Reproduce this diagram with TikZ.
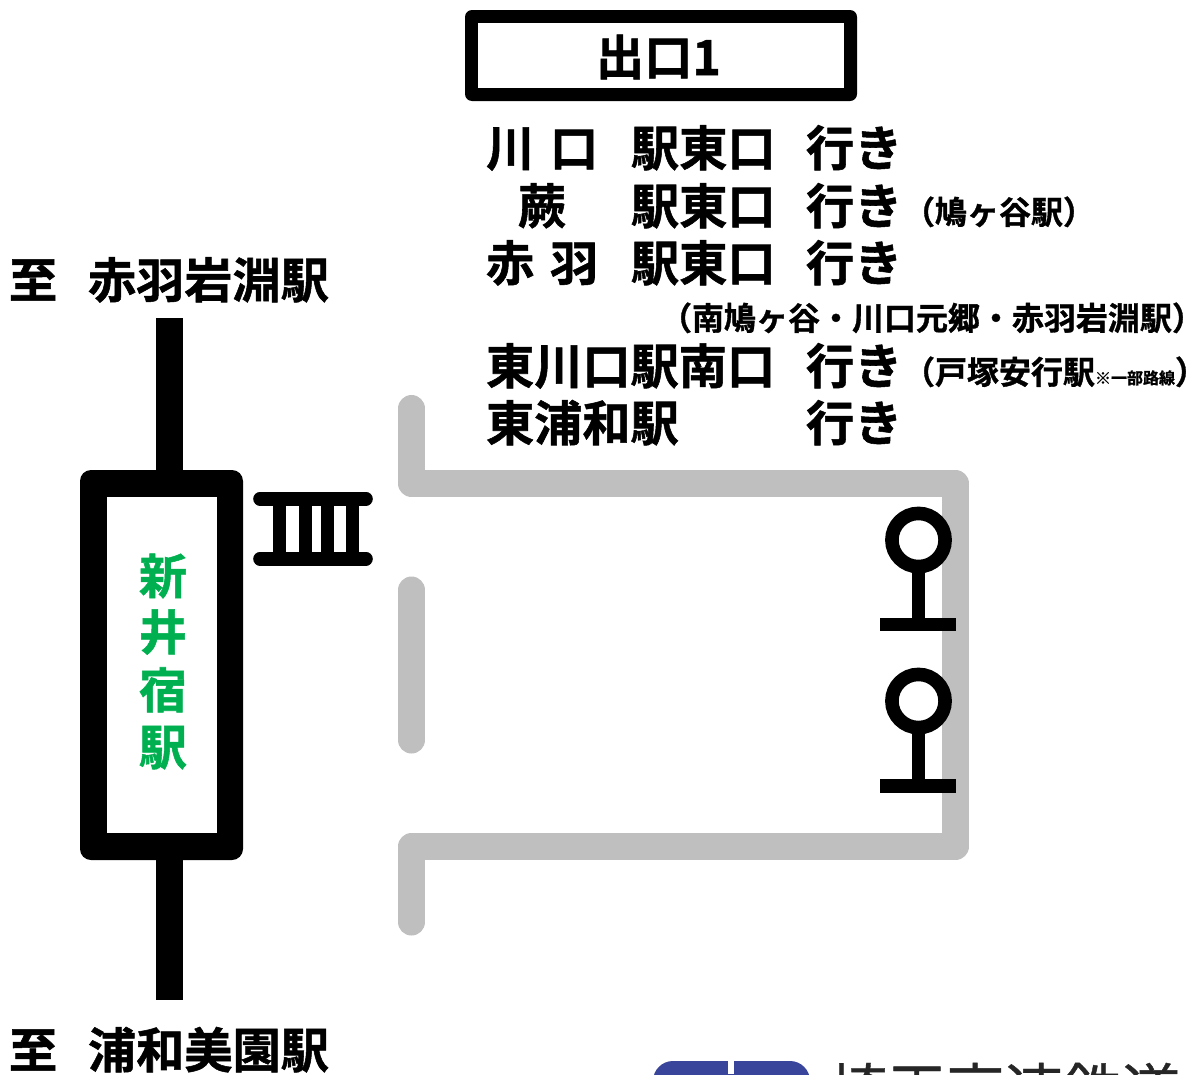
\documentclass[tikz,border=0pt]{standalone}
\usepackage{fontspec}
\newfontfamily\cjk[BoldFont={Noto Sans CJK JP Bold},BoldFeatures={FakeBold=1.1}]{Noto Sans CJK JP}
\newfontfamily\cjklogo[FakeBold=0.7]{Noto Sans CJK JP}
\definecolor{wallgrey}{HTML}{BFBFBF}
\definecolor{stagreen}{HTML}{00B050}
\definecolor{logoblue}{HTML}{39449B}
\tikzset{
  wall/.style={draw=wallgrey,line width=27pt,line cap=round,line join=round},
  thick27/.style={draw=black,line width=27pt},
  thin13/.style={draw=black,line width=13.6pt},
  big/.style={anchor=base west,inner sep=0pt,outer sep=0pt,font=\cjk\bfseries\fontsize{48.2}{48}\selectfont},
  mid/.style={anchor=base west,inner sep=0pt,outer sep=0pt,font=\cjk\bfseries\fontsize{32}{32}\selectfont},
  tiny16/.style={anchor=base west,inner sep=0pt,outer sep=0pt,font=\cjk\bfseries\fontsize{16}{16}\selectfont},
  sta/.style={anchor=base,inner sep=0pt,outer sep=0pt,text=stagreen,font=\cjk\bfseries\fontsize{48}{48}\selectfont},
}
\begin{document}
\begin{tikzpicture}[x=1pt,y=-1pt]
\useasboundingbox (0,0) rectangle (1197,1074);
% walls
\draw[wall] (411.5,408.5) -- (411.5,483.5) -- (955.5,483.5) -- (955.5,846.5) -- (411.5,846.5) -- (411.5,922);
\draw[wall] (411.5,590) -- (411.5,740);
% line
\draw[thick27] (169.5,318) -- (169.5,1000);
\fill[black,rounded corners=11pt] (80,470) rectangle (243,860);
\fill[white] (107,497) rectangle (217,833);
% stairs
\foreach \sx in {279.3,305.3,327.6,352.6}{\draw[thin13] (\sx,498.7) -- (\sx,558.7);}
\draw[thin13,line cap=round] (260,498.7) -- (366,498.7);
\draw[thin13,line cap=round] (260,558.7) -- (366,558.7);
% stops
\foreach \cy/\by in {540/624.5,701/785.7}{
  \draw[thin13] (918.5,\cy+26.6) -- (918.5,\by);
  \draw[thin13] (880,\by) -- (955.7,\by);
  \draw[thin13,fill=white] (918.5,\cy) circle (26.6pt);
}
% exit box
\fill[black,rounded corners=7pt] (465,10) rectangle (857,101);
\fill[white] (478,23) rectangle (844,88);
\node[big] (exit) at (596,75) {出口1};
% destinations
\node[big] (a1) at (486,166) {川};
\node[big] (a2) at (550,166) {口};
\node[big] (a3) at (631,166) {駅東口};
\node[big] (a4) at (806,166) {行き};
\node[big] (b1) at (518,224) {蕨};
\node[big] (b3) at (631,224) {駅東口};
\node[big] (b4) at (806,224) {行き};
\node[mid] (b5) at (903,224) {（鳩ヶ谷駅）};
\node[big] (c1) at (486,281) {赤};
\node[big] (c2) at (550,281) {羽};
\node[big] (c3) at (631,281) {駅東口};
\node[big] (c4) at (806,281) {行き};
\node[mid] (c5) at (660,330) {\makebox[530pt][l]{（南鳩ヶ谷・川口元郷・赤羽岩淵駅）}};
\node[big] (d1) at (486,384) {東川口駅南口};
\node[big] (d4) at (806,384) {行き};
\node[mid] (d5) at (903,384) {（戸塚安行駅};
\node[tiny16] (d6) at (1095,384) {※一部路線};
\node[mid] (d7) at (1175,384) {\makebox[15pt][l]{）}};
\node[big] (e1) at (486,441) {東浦和駅};
\node[big] (e4) at (806,441) {行き};
% termini
\node[big] (t1) at (9,298) {至};
\node[big] (t2) at (88,298) {赤羽岩淵駅};
\node[big] (u1) at (9,1068) {至};
\node[big] (u2) at (88,1068) {浦和美園駅};
% station
\node[sta] (s1) at (163,594) {新};
\node[sta] (s2) at (163,650) {井};
\node[sta] (s3) at (163,708) {宿};
\node[sta] (s4) at (163,765) {駅};
% logo
\fill[logoblue,rounded corners=20pt] (653,1061) rectangle (810,1120);
\fill[white] (728,1055) rectangle (734,1074);
\node[anchor=base west,inner sep=0pt,text=black!85,font=\cjklogo\fontsize{58.5}{58}\selectfont] (logo) at (829,1112) {埼玉高速鉄道};
\end{tikzpicture}
\end{document}
